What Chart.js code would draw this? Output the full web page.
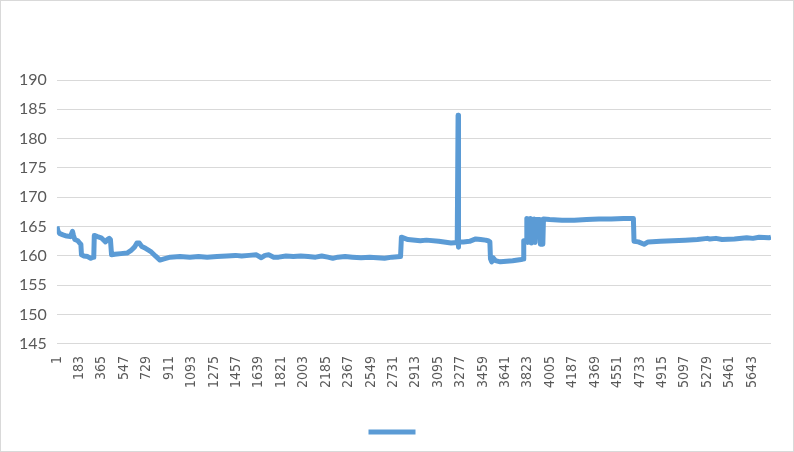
<!DOCTYPE html>
<html><head><meta charset="utf-8">
<script src="https://cdn.jsdelivr.net/npm/chart.js@4/dist/chart.umd.min.js"></script>
<style>
html,body{margin:0;padding:0;background:#fff;}
#wrap{width:792px;height:450px;border:1px solid #d9d9d9;}
canvas{display:block;}
</style></head>
<body><div id="wrap"><canvas id="c" width="792" height="450"></canvas></div>
<script>
const xIndex = [1,10,25,50,80,110,127,135,146,170,185,195,200,220,250,275,295,300,304,330,360,385,395,410,425,435,444,470,520,570,600,630,650,670,690,720,760,800,837,870,920,
1000,1080,1150,1220,1300,1380,1450,1500,1560,1620,1660,1690,1720,1760,1800,1860,1920,1980,2040,2100,2150,2200,2240,2280,2340,2400,2470,2540,2600,2660,2720,2790,
2797,2850,2950,3000,3100,3200,3250,3257,3259,3262,3300,3350,3400,3440,3480,3500,3515,3520,3530,3540,3560,3600,3650,3700,3770,3786,3790,3812,
3815,3822,3830,3838,3845,3852,3860,3868,3875,3882,3890,3920,3925,3945,3950,4000,4100,4200,4300,4400,4500,4600,4680,
4685,4720,4767,4800,4900,5000,5100,5200,5280,5300,5350,5400,5500,5600,5650,5700,5780,5797];
const yValue = [165.0,164.2,163.8,163.6,163.4,163.3,164.2,163.5,162.8,162.6,162.2,162.0,160.2,160.0,159.9,159.6,159.8,160.0,163.5,163.3,163.1,162.6,162.4,162.8,163.0,162.8,160.2,160.3,160.4,160.5,160.9,161.5,162.2,162.2,161.6,161.3,160.8,160.0,159.3,159.5,159.8,
159.9,159.8,159.9,159.8,159.9,160.0,160.1,160.0,160.1,160.2,159.7,160.1,160.2,159.8,159.8,160.0,159.9,160.0,159.9,159.8,160.0,159.8,159.6,159.8,159.9,159.8,159.7,159.8,159.7,159.6,159.8,159.9,
163.2,162.8,162.6,162.7,162.5,162.2,162.3,184.0,161.5,162.4,162.4,162.5,162.9,162.8,162.7,162.6,162.4,159.5,159.0,159.7,159.2,159.0,159.1,159.2,159.4,159.5,162.6,162.6,
166.4,162.3,166.3,162.5,166.4,162.2,166.2,162.4,166.3,162.3,166.2,166.2,162.0,162.0,166.3,166.2,166.1,166.1,166.2,166.3,166.3,166.4,166.4,
162.5,162.4,162.0,162.4,162.5,162.6,162.7,162.8,163.0,162.9,163.0,162.8,162.9,163.1,163.0,163.2,163.1,163.2];
const xTickLabels = [1,183,365,547,729,911,1093,1275,1457,1639,1821,2003,2185,2367,2549,2731,2913,3095,3277,3459,3641,3823,4005,4187,4369,4551,4733,4915,5097,5279,5461,5643];
const yMin = 145, yMax = 190, yStep = 5;

const points = xIndex.map((x,i)=>({x:x, y:yValue[i]}));

new Chart(document.getElementById('c'), {
  type: 'line',
  data: { datasets: [{
    label: '',
    data: points,
    borderColor: '#5b9bd5',
    backgroundColor: '#5b9bd5',
    borderWidth: 5,
    pointRadius: 0,
    borderJoinStyle: 'round',
    borderCapStyle: 'butt',
    tension: 0
  }]},
  options: {
    responsive: false,
    animation: false,
    layout: { padding: { left: 18, right: 22, top: 79, bottom: 3 } },
    plugins: {
      tooltip: { enabled: false },
      legend: {
        position: 'bottom',
        labels: { usePointStyle: true, pointStyle: 'line', pointStyleWidth: 47, boxHeight: 4, padding: 5, font: { family: 'Lato', size: 12 } }
      }
    },
    scales: {
      x: {
        type: 'linear',
        min: 0, max: 5797,
        afterBuildTicks: (s) => { s.ticks = xTickLabels.map(v => ({ value: v })); },
        afterFit: (s) => { s.height += 21; },
        grid: { display: false, drawTicks: false },
        border: { display: false },
        ticks: {
          autoSkip: false, minRotation: 90, maxRotation: 90, padding: 12,
          color: '#595959',
          font: { family: "'Liberation Sans Narrow', 'DejaVu Sans Condensed', Lato", size: 14 },
          callback: (v) => String(v)
        }
      },
      y: {
        min: yMin, max: yMax,
        afterFit: (s) => { s.width -= 14; },
        ticks: { stepSize: yStep, padding: 12, crossAlign: 'far', color: '#595959', font: { family: 'Lato', size: 16 } },
        grid: { color: '#d9d9d9', lineWidth: 1, drawTicks: false },
        border: { display: false }
      }
    }
  }
});
</script>
</body></html>
